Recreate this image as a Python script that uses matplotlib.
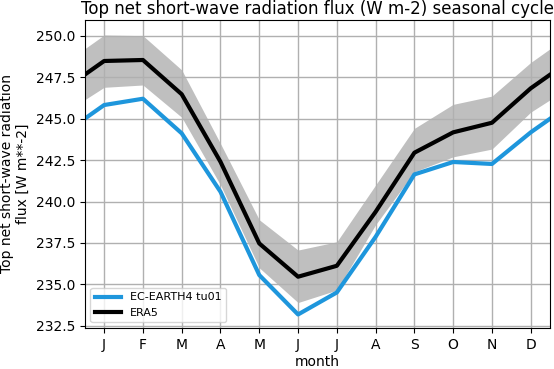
import numpy as np
import matplotlib
matplotlib.use("Agg")
import matplotlib.pyplot as plt

# monthly climatology (J..D)
months = ["J", "F", "M", "A", "M", "J", "J", "A", "S", "O", "N", "D"]
ec_earth = [245.83, 246.21, 244.12, 240.59, 235.56, 233.18, 234.51, 237.87, 241.64, 242.39, 242.27, 244.18]
era5 = [248.49, 248.55, 246.48, 242.40, 237.47, 235.46, 236.12, 239.38, 242.95, 244.18, 244.76, 246.84]
era5_hi = [250.06, 250.02, 247.95, 243.50, 238.90, 237.07, 237.57, 241.00, 244.42, 245.87, 246.37, 248.40]
era5_lo = [246.90, 247.04, 245.09, 241.00, 236.00, 233.90, 234.65, 238.60, 241.80, 242.70, 243.17, 245.40]


def wrap(v):
    # pad with december before and january after so the cycle closes
    return [v[-1]] + list(v) + [v[0]]


x = np.arange(0, 14)

fig = plt.figure(figsize=(5.54, 3.69), dpi=100)
ax = fig.add_axes([0.153, 0.111, 0.840, 0.835])

ax.fill_between(x, wrap(era5_lo), wrap(era5_hi), color="gray", alpha=0.5, linewidth=0)
ax.plot(x, wrap(ec_earth), color="#1e96dc", linewidth=3, label="EC-EARTH4 tu01")
ax.plot(x, wrap(era5), color="black", linewidth=3, label="ERA5")

ax.set_xlim(0.5, 12.5)
ax.set_ylim(232.36, 250.97)
ax.set_xticks(range(1, 13))
ax.set_xticklabels(months)
ax.grid(True, color="#b0b0b0", linewidth=1)

ax.set_xlabel("month", labelpad=2)
ax.set_ylabel("Top net short-wave radiation\nflux [W m**-2]", multialignment="center")
ax.set_title("Top net short-wave radiation flux (W m-2) seasonal cycle", fontsize=12, pad=4)
ax.legend(loc="lower left", fontsize=8, handlelength=2.4)

fig.savefig("out.png", dpi=100)
